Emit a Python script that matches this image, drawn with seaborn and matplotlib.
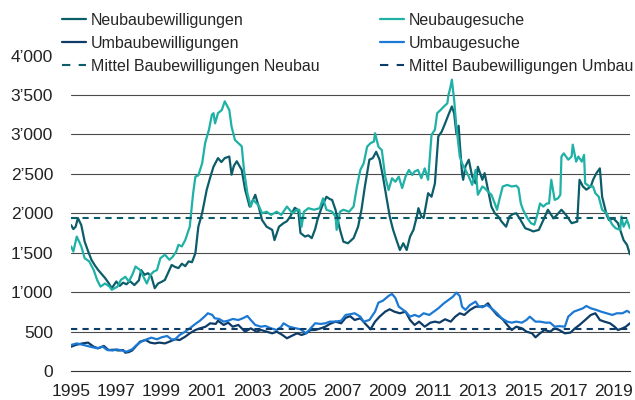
import pandas as pd
import seaborn as sns
import matplotlib.pyplot as plt
from matplotlib.lines import Line2D
from matplotlib.ticker import FuncFormatter

# (Jahr, Anzahl)
neubau_bew = [
    (1995.0, 1850), (1995.1, 1800), (1995.2, 1830), (1995.3, 1940), (1995.45, 1850),
    (1995.6, 1640), (1995.75, 1520), (1995.9, 1410), (1996.05, 1340), (1996.2, 1280),
    (1996.35, 1230), (1996.5, 1180), (1996.65, 1120), (1996.8, 1050), (1997.0, 1135),
    (1997.15, 1080), (1997.3, 1120), (1997.45, 1100), (1997.6, 1140), (1997.8, 1090),
    (1998.0, 1150), (1998.1, 1280), (1998.25, 1220), (1998.4, 1240), (1998.55, 1200),
    (1998.7, 1050), (1998.85, 1110), (1999.0, 1130), (1999.15, 1155), (1999.3, 1250),
    (1999.45, 1345), (1999.6, 1320), (1999.75, 1305), (1999.9, 1360), (2000.05, 1330),
    (2000.2, 1390), (2000.35, 1380), (2000.5, 1495), (2000.63, 1830), (2000.8, 2005),
    (2001.0, 2297), (2001.15, 2450), (2001.3, 2590), (2001.5, 2700), (2001.65, 2650),
    (2001.8, 2700), (2002.0, 2720), (2002.1, 2490), (2002.2, 2600), (2002.33, 2660),
    (2002.45, 2600), (2002.55, 2550), (2002.7, 2300), (2002.9, 2085), (2003.05, 2170),
    (2003.15, 2235), (2003.3, 2085), (2003.45, 1915), (2003.65, 1830), (2003.9, 1790),
    (2004.0, 1660), (2004.2, 1830), (2004.4, 1875), (2004.55, 1900), (2004.7, 1960),
    (2004.9, 2070), (2005.05, 2040), (2005.15, 1750), (2005.35, 1705), (2005.5, 1720),
    (2005.65, 1685), (2005.8, 1800), (2005.9, 1915), (2006.1, 2085), (2006.3, 2210),
    (2006.45, 2180), (2006.55, 2170), (2006.7, 2045), (2006.9, 1790), (2007.05, 1640),
    (2007.25, 1620), (2007.5, 1685), (2007.7, 1830), (2007.85, 2045), (2008.0, 2340),
    (2008.2, 2680), (2008.35, 2700), (2008.5, 2780), (2008.65, 2680), (2008.8, 2465),
    (2008.95, 2210), (2009.1, 1960), (2009.25, 1790), (2009.4, 1660), (2009.55, 1535),
    (2009.7, 1620), (2009.85, 1535), (2010.0, 1705), (2010.15, 1790), (2010.3, 1960),
    (2010.37, 2065), (2010.5, 1960), (2010.6, 1940), (2010.8, 2255), (2010.95, 2210),
    (2011.1, 2380), (2011.25, 2975), (2011.4, 3035), (2011.55, 3140), (2011.7, 3250),
    (2011.85, 3355), (2011.95, 3270), (2012.05, 3015), (2012.15, 3110), (2012.2, 2890),
    (2012.3, 2510), (2012.35, 2425), (2012.45, 2595), (2012.6, 2680), (2012.75, 2465),
    (2012.9, 2380), (2013.0, 2590), (2013.2, 2425), (2013.3, 2510), (2013.45, 2295),
    (2013.6, 2085), (2013.75, 2000), (2013.9, 1960), (2014.05, 1895), (2014.25, 1830),
    (2014.4, 1960), (2014.55, 1990), (2014.7, 2000), (2014.85, 1935), (2015.1, 1810),
    (2015.3, 1790), (2015.45, 1770), (2015.7, 1790), (2015.9, 1915), (2016.1, 2045),
    (2016.35, 1935), (2016.5, 1980), (2016.7, 2045), (2016.9, 1980), (2017.15, 1875),
    (2017.4, 1895), (2017.5, 2425), (2017.65, 2340), (2017.8, 2300), (2018.0, 2340),
    (2018.1, 2425), (2018.25, 2510), (2018.4, 2570), (2018.5, 2210), (2018.7, 1980),
    (2018.8, 1915), (2019.0, 1935), (2019.2, 1875), (2019.3, 1790), (2019.45, 1660),
    (2019.6, 1600), (2019.73, 1480),
]

neubau_ges = [
    (1995.0, 1580), (1995.1, 1515), (1995.25, 1705), (1995.45, 1580), (1995.6, 1430),
    (1995.8, 1390), (1996.0, 1280), (1996.15, 1155), (1996.3, 1070), (1996.5, 1110),
    (1996.7, 1070), (1996.8, 1030), (1997.05, 1070), (1997.2, 1155), (1997.4, 1195),
    (1997.55, 1135), (1997.7, 1215), (1997.85, 1325), (1998.05, 1280), (1998.2, 1195),
    (1998.35, 1110), (1998.5, 1215), (1998.65, 1260), (1998.8, 1280), (1998.95, 1430),
    (1999.15, 1475), (1999.35, 1410), (1999.5, 1450), (1999.65, 1515), (1999.75, 1600),
    (1999.9, 1580), (2000.05, 1660), (2000.15, 1745), (2000.25, 1830), (2000.4, 2255),
    (2000.5, 2465), (2000.63, 2480), (2000.8, 2635), (2000.93, 2890), (2001.1, 3060),
    (2001.23, 3250), (2001.3, 3270), (2001.37, 3140), (2001.5, 3270), (2001.67, 3310),
    (2001.8, 3420), (2002.0, 3310), (2002.1, 3100), (2002.25, 2930), (2002.4, 2890),
    (2002.55, 2850), (2002.65, 2550), (2002.8, 2255), (2002.95, 2085), (2003.05, 2170),
    (2003.3, 2100), (2003.45, 2000), (2003.65, 2020), (2003.85, 1980), (2004.1, 2020),
    (2004.3, 1980), (2004.55, 2085), (2004.8, 2000), (2005.0, 2045), (2005.1, 2045),
    (2005.2, 1830), (2005.3, 2020), (2005.5, 2065), (2005.75, 2045), (2006.0, 2065),
    (2006.15, 2190), (2006.3, 2045), (2006.55, 2020), (2006.7, 1960), (2006.75, 1790),
    (2006.9, 2020), (2007.05, 2045), (2007.3, 2020), (2007.5, 2085), (2007.65, 2340),
    (2007.8, 2550), (2007.95, 2635), (2008.1, 2845), (2008.25, 2890), (2008.4, 2910),
    (2008.45, 3015), (2008.6, 2845), (2008.75, 2800), (2008.9, 2465), (2009.05, 2295),
    (2009.2, 2445), (2009.35, 2400), (2009.5, 2465), (2009.65, 2320), (2009.8, 2465),
    (2009.95, 2550), (2010.1, 2485), (2010.2, 2530), (2010.35, 2550), (2010.5, 2445),
    (2010.65, 2570), (2010.8, 2425), (2010.95, 2995), (2011.1, 3060), (2011.2, 3270),
    (2011.35, 3310), (2011.5, 3355), (2011.65, 3395), (2011.7, 3500), (2011.78, 3590),
    (2011.85, 3695), (2011.95, 3440), (2012.05, 3100), (2012.2, 2720), (2012.3, 2635),
    (2012.45, 2550), (2012.6, 2465), (2012.75, 2360), (2012.9, 2550), (2013.0, 2235),
    (2013.2, 2340), (2013.3, 2320), (2013.45, 2275), (2013.6, 2235), (2013.75, 2125),
    (2013.85, 2045), (2013.95, 2170), (2014.1, 2340), (2014.3, 2360), (2014.5, 2340),
    (2014.7, 2350), (2014.8, 2320), (2014.9, 2125), (2015.0, 2045), (2015.2, 1935),
    (2015.35, 1875), (2015.5, 1855), (2015.65, 2000), (2015.75, 2125), (2015.9, 2085),
    (2016.05, 2125), (2016.15, 2125), (2016.25, 2425), (2016.4, 2170), (2016.55, 2190),
    (2016.65, 2235), (2016.7, 2720), (2016.8, 2760), (2017.0, 2680), (2017.15, 2720),
    (2017.2, 2870), (2017.35, 2655), (2017.45, 2720), (2017.6, 2655), (2017.7, 2740),
    (2017.75, 2380), (2017.95, 2340), (2018.1, 2340), (2018.2, 2255), (2018.35, 2210),
    (2018.5, 2045), (2018.7, 2000), (2018.8, 1935), (2018.95, 1855), (2019.1, 1810),
    (2019.3, 1790), (2019.35, 1960), (2019.45, 1830), (2019.6, 1915), (2019.73, 1810),
]

umbau_bew = [
    (1995.0, 308), (1995.2, 330), (1995.5, 350), (1995.75, 360), (1996.0, 308),
    (1996.2, 288), (1996.45, 318), (1996.65, 266), (1996.9, 270), (1997.1, 260),
    (1997.3, 266), (1997.4, 232), (1997.55, 240), (1997.7, 260), (1997.85, 308),
    (1998.05, 372), (1998.3, 393), (1998.5, 360), (1998.7, 350), (1998.9, 360),
    (1999.15, 350), (1999.35, 372), (1999.6, 402), (1999.8, 393), (2000.05, 435),
    (2000.25, 478), (2000.5, 520), (2000.7, 541), (2000.95, 562), (2001.15, 605),
    (2001.4, 597), (2001.5, 638), (2001.75, 584), (2001.95, 613), (2002.15, 562),
    (2002.4, 584), (2002.55, 541), (2002.7, 499), (2002.95, 541), (2003.2, 499),
    (2003.4, 520), (2003.65, 499), (2003.9, 478), (2004.1, 499), (2004.35, 457),
    (2004.55, 415), (2004.75, 444), (2005.0, 478), (2005.2, 457), (2005.4, 478),
    (2005.6, 520), (2005.8, 520), (2006.05, 541), (2006.25, 562), (2006.45, 597),
    (2006.7, 626), (2006.95, 605), (2007.15, 675), (2007.35, 695), (2007.55, 647),
    (2007.8, 669), (2008.0, 605), (2008.25, 529), (2008.45, 626), (2008.65, 689),
    (2008.9, 753), (2009.1, 783), (2009.3, 753), (2009.55, 732), (2009.8, 753),
    (2010.0, 647), (2010.2, 584), (2010.4, 626), (2010.65, 562), (2010.9, 613),
    (2011.1, 626), (2011.3, 613), (2011.55, 656), (2011.8, 626), (2012.0, 689),
    (2012.2, 732), (2012.4, 711), (2012.65, 774), (2012.9, 816), (2013.1, 816),
    (2013.3, 825), (2013.45, 859), (2013.6, 795), (2013.85, 711), (2014.1, 656),
    (2014.3, 584), (2014.5, 520), (2014.7, 562), (2014.95, 541), (2015.15, 499),
    (2015.4, 478), (2015.55, 427), (2015.75, 478), (2015.95, 520), (2016.2, 499),
    (2016.4, 541), (2016.6, 520), (2016.85, 478), (2017.1, 487), (2017.3, 541),
    (2017.5, 584), (2017.75, 647), (2018.0, 711), (2018.2, 732), (2018.4, 647),
    (2018.6, 626), (2018.85, 605), (2019.05, 562), (2019.2, 520), (2019.4, 541),
    (2019.55, 562), (2019.73, 605),
]

umbau_ges = [
    (1995.0, 330), (1995.25, 350), (1995.55, 330), (1995.85, 308), (1996.15, 288),
    (1996.4, 308), (1996.6, 266), (1996.85, 260), (1997.0, 275), (1997.25, 260),
    (1997.45, 245), (1997.7, 275), (1997.9, 330), (1998.1, 372), (1998.35, 402),
    (1998.55, 423), (1998.8, 402), (1999.0, 427), (1999.25, 444), (1999.45, 400),
    (1999.6, 402), (1999.8, 457), (2000.05, 499), (2000.25, 541), (2000.5, 597),
    (2000.7, 638), (2000.9, 689), (2001.05, 732), (2001.25, 711), (2001.35, 669),
    (2001.55, 660), (2001.75, 626), (2001.95, 638), (2002.15, 660), (2002.4, 647),
    (2002.6, 669), (2002.8, 698), (2002.95, 647), (2003.15, 584), (2003.4, 562),
    (2003.6, 571), (2003.85, 541), (2004.1, 520), (2004.3, 562), (2004.4, 605),
    (2004.65, 562), (2004.95, 541), (2005.15, 529), (2005.4, 478), (2005.6, 541),
    (2005.8, 605), (2006.05, 597), (2006.25, 605), (2006.45, 626), (2006.7, 626),
    (2006.95, 638), (2007.15, 711), (2007.35, 720), (2007.55, 732), (2007.8, 689),
    (2007.95, 626), (2008.2, 647), (2008.45, 753), (2008.6, 867), (2008.8, 892),
    (2009.05, 952), (2009.2, 977), (2009.35, 926), (2009.5, 816), (2009.8, 753),
    (2010.0, 689), (2010.2, 711), (2010.4, 689), (2010.6, 732), (2010.85, 711),
    (2011.05, 753), (2011.25, 795), (2011.5, 859), (2011.7, 901), (2011.9, 943),
    (2012.05, 994), (2012.2, 952), (2012.3, 816), (2012.45, 775), (2012.65, 837),
    (2012.9, 880), (2013.05, 816), (2013.2, 808), (2013.4, 837), (2013.6, 795),
    (2013.85, 732), (2014.05, 669), (2014.3, 626), (2014.5, 613), (2014.7, 626),
    (2014.95, 613), (2015.15, 647), (2015.3, 689), (2015.55, 626), (2015.75, 626),
    (2016.0, 613), (2016.2, 613), (2016.4, 562), (2016.6, 569), (2016.85, 562),
    (2017.0, 689), (2017.25, 753), (2017.45, 774), (2017.65, 795), (2017.8, 825),
    (2018.0, 795), (2018.25, 774), (2018.45, 753), (2018.7, 732), (2018.95, 711),
    (2019.15, 732), (2019.4, 732), (2019.6, 763), (2019.73, 740),
]

mittel_neubau = 1945
mittel_umbau = 530

serien = {
    "Neubaubewilligungen": neubau_bew,
    "Neubaugesuche": neubau_ges,
    "Umbaubewilligungen": umbau_bew,
    "Umbaugesuche": umbau_ges,
}
farben = {
    "Neubaubewilligungen": "#0c5d6a",
    "Neubaugesuche": "#1fb0a6",
    "Umbaubewilligungen": "#0e3c68",
    "Umbaugesuche": "#1c79d3",
}

rows = []
for name, punkte in serien.items():
    for jahr, wert in punkte:
        rows.append({"Jahr": jahr, "Wert": wert, "Serie": name})
df = pd.DataFrame(rows)

sns.set_style("white")
plt.rcParams["font.family"] = ["Liberation Sans", "DejaVu Sans"]

fig = plt.figure(figsize=(6.35, 4.0), dpi=100)
ax = fig.add_axes([0.112, 0.0725, 0.88, 0.7885])

sns.lineplot(data=df, x="Jahr", y="Wert", hue="Serie", hue_order=list(serien.keys()),
             palette=farben, estimator=None, sort=False, linewidth=1.6, legend=False, ax=ax)

dash = (0, (3, 2.5))
ax.axhline(mittel_neubau, color=farben["Neubaubewilligungen"], linestyle=dash, linewidth=1.5)
ax.axhline(mittel_umbau, color=farben["Umbaubewilligungen"], linestyle=dash, linewidth=1.5)

ax.set_xlim(1995, 2019.73)
ax.set_ylim(0, 4000)
ax.set_xticks(range(1995, 2020, 2))
ax.set_yticks(range(0, 4001, 500))
ax.yaxis.set_major_formatter(FuncFormatter(lambda v, p: f"{int(v):,}".replace(",", "\u2019")))
ax.set_xlabel("")
ax.set_ylabel("")

ax.grid(axis="y", color="#4a4a4a", linewidth=0.8)
ax.set_axisbelow(True)
gl = ax.get_ygridlines()
gl[0].set_visible(False)
gl[-1].set_visible(False)

for s in ["left", "right", "top"]:
    ax.spines[s].set_visible(False)
ax.spines["bottom"].set_color("#333333")
ax.spines["bottom"].set_linewidth(0.8)
ax.tick_params(axis="x", length=5, width=0.8, direction="out", color="#333333",
               labelsize=12.5, pad=4, labelcolor="#222222")
ax.tick_params(axis="y", length=0, labelsize=12.5, pad=13, labelcolor="#222222")

# Legende, spaltenweise gefuellt
leg_dash = (0, (4, 4))
handles = [
    Line2D([], [], color=farben["Neubaubewilligungen"], lw=1.6),
    Line2D([], [], color=farben["Umbaubewilligungen"], lw=1.6),
    Line2D([], [], color=farben["Neubaubewilligungen"], lw=1.5, linestyle=leg_dash),
    Line2D([], [], color=farben["Neubaugesuche"], lw=1.6),
    Line2D([], [], color=farben["Umbaugesuche"], lw=1.6),
    Line2D([], [], color=farben["Umbaubewilligungen"], lw=1.5, linestyle=leg_dash),
]
labels = ["Neubaubewilligungen", "Umbaubewilligungen", "Mittel Baubewilligungen Neubau",
          "Neubaugesuche", "Umbaugesuche", "Mittel Baubewilligungen Umbau"]
fig.legend(handles, labels, ncol=2, loc="upper left", bbox_to_anchor=(62 / 635, 1 - 13 / 400),
           frameon=False, prop={"family": "Liberation Sans", "size": 11.5},
           handlelength=1.5, handletextpad=0.3, columnspacing=3.8, labelspacing=0.5,
           borderpad=0, borderaxespad=0)

fig.savefig("out.png", dpi=100)
